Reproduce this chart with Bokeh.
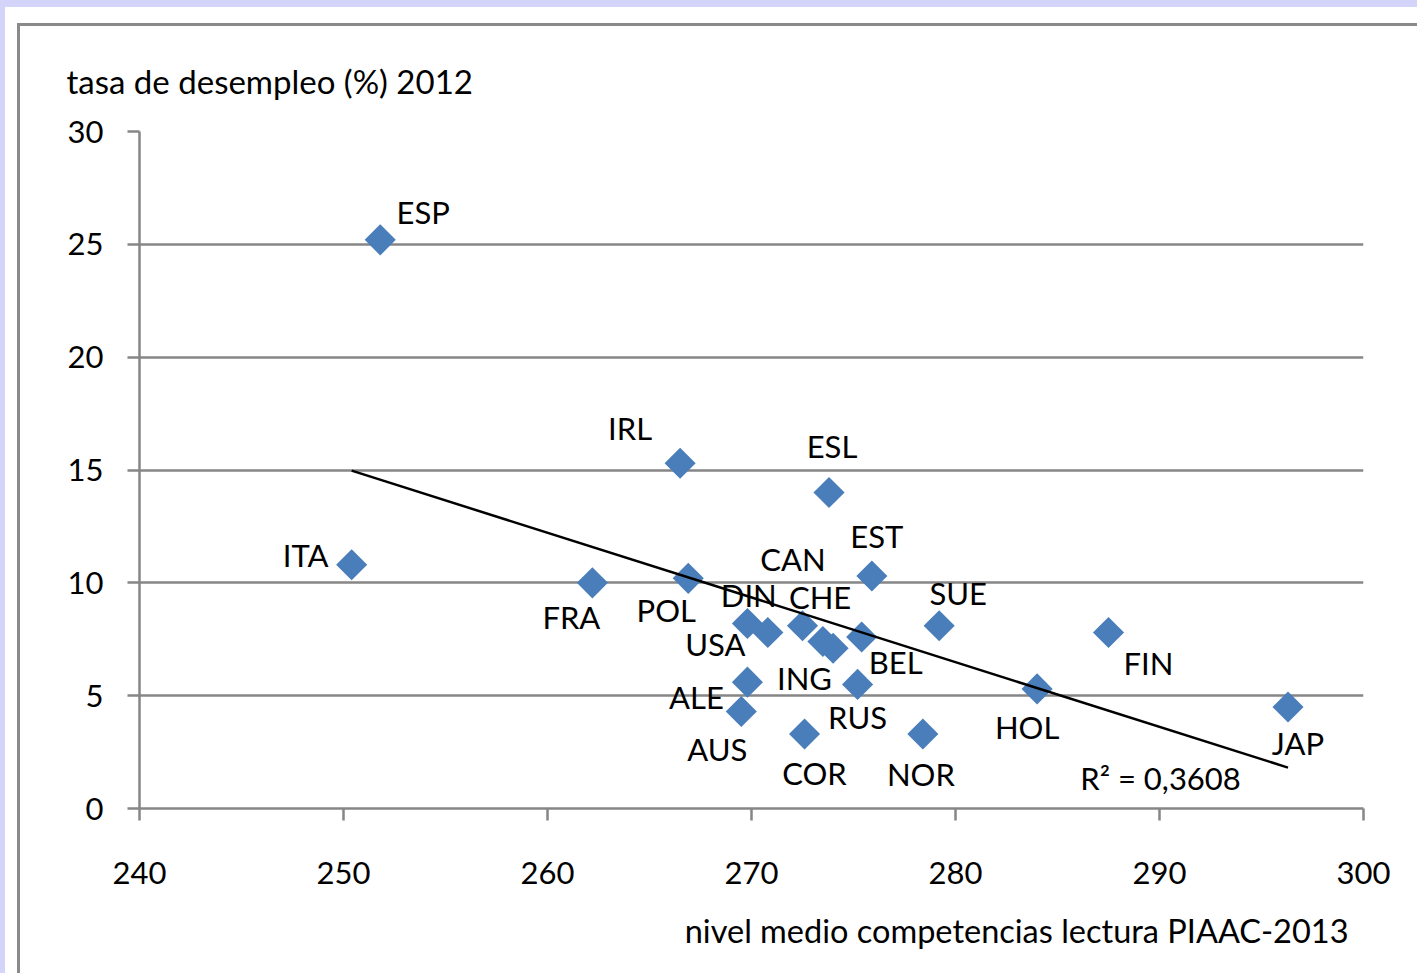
import numpy as np
from bokeh.plotting import figure
from bokeh.layouts import column, row
from bokeh.models import ColumnDataSource, Label, FixedTicker, Range1d, Title, Spacer
from bokeh.core.properties import value
from bokeh.embed import file_html
from bokeh.resources import INLINE

# --- data ---
countries = ["ESP", "ITA", "FRA", "IRL", "POL", "ESL", "EST", "SUE", "FIN", "JAP", "HOL",
             "NOR", "COR", "RUS", "BEL", "ALE", "AUS", "USA", "DIN", "ING", "CAN", "CHE"]
lectura = [251.8, 250.4, 262.2, 266.5, 266.9, 273.8, 275.9, 279.2, 287.5, 296.3, 284.0,
           278.4, 272.6, 275.2, 275.4, 269.8, 269.5, 269.8, 270.8, 272.5, 273.5, 274.0]
desempleo = [25.2, 10.8, 10.0, 15.3, 10.2, 14.0, 10.3, 8.1, 7.8, 4.5, 5.3,
             3.3, 3.3, 5.5, 7.6, 5.6, 4.3, 8.2, 7.8, 8.1, 7.4, 7.1]
x_ticks = [240, 250, 260, 270, 280, 290, 300]
y_ticks = [0, 5, 10, 15, 20, 25, 30]
r2_text = "R\u00b2 = 0,3608"
y_title = "tasa de desempleo (%) 2012"
x_title = "nivel medio competencias lectura PIAAC-2013"

# label placement (screen px, relative to the marker; dy positive = down)
label_dx = [43, -46, -21, -50, -22, 3, 5, 19, 40, 10, -10, -2, 10, 0, 34, -51, -24, -32, -19, 2, -30, -13]
label_dy = [-28, -10, 34, -35, 32, -47, -40, -33, 31, 36, 38, 40, 39, 33, 25, 15, 38, 21, -37, 52, -83, -51]

FONT = "Lato"
FS = "31px"
GRAY = "#868686"
BLUE = "#4A7EBB"

src = ColumnDataSource(dict(x=lectura, y=desempleo, label=countries, dx=label_dx, dy=label_dy))

p = figure(width=1400, height=950, output_backend="svg", toolbar_location=None,
           x_range=Range1d(240, 300), y_range=Range1d(0, 30),
           min_border_left=119, min_border_right=57, min_border_top=105, min_border_bottom=168,
           styles={"border-left": "3px solid #8a8a8a", "border-top": "3px solid #8a8a8a"})
p.outline_line_color = None
p.background_fill_color = "white"
p.border_fill_color = "white"

p.title.text = y_title
p.title.align = "left"
p.title.offset = -73
p.title.standoff = 62
p.title.text_font = FONT
p.title.text_font_size = "33px"
p.title.text_font_style = "normal"
p.title.text_color = "black"

p.add_layout(Title(text=x_title, align="right", offset=15, standoff=44, text_font=FONT,
                   text_font_size="32.5px", text_font_style="normal", text_color="black"), "below")

p.xgrid.grid_line_color = None
p.ygrid.grid_line_color = GRAY
p.ygrid.grid_line_width = 2.5
p.ygrid.ticker = FixedTicker(ticks=y_ticks)

for ax in (p.xaxis[0], p.yaxis[0]):
    ax.axis_line_color = GRAY
    ax.axis_line_width = 2.5
    ax.major_tick_line_color = GRAY
    ax.major_tick_line_width = 2.5
    ax.major_tick_out = 12
    ax.major_tick_in = 0
    ax.minor_tick_line_color = None
    ax.major_label_text_font = FONT
    ax.major_label_text_font_size = FS
    ax.major_label_text_color = "black"

p.xaxis.ticker = FixedTicker(ticks=x_ticks)
p.yaxis.ticker = FixedTicker(ticks=y_ticks)
p.xaxis.major_label_standoff = 41
p.yaxis.major_label_standoff = 24

p.scatter(x="x", y="y", source=src, marker="square", size=22, angle=np.pi / 4,
          fill_color=BLUE, line_color=None)

slope, intercept = np.polyfit(lectura, desempleo, 1)
xs = np.array([min(lectura), max(lectura)])
p.line(xs, slope * xs + intercept, line_color="black", line_width=2.5)

p.text(x="x", y="y", text="label", source=src, x_offset="dx", y_offset="dy",
       text_align="center", text_baseline="middle", text_font=value(FONT),
       text_font_size=FS, text_color="black")

p.add_layout(Label(x=290.05, y=1.37, text=r2_text, text_align="center", text_baseline="middle",
                   text_font=FONT, text_font_size=FS, text_color="black"))

layout = column(Spacer(width=10, height=16),
                row(Spacer(width=12, height=10), p, spacing=0),
                spacing=0,
                styles={"border-top": "7px solid #d4d4fa", "border-left": "5px solid #d4d4fa"})

open("out.html", "w").write(file_html(layout, INLINE))
